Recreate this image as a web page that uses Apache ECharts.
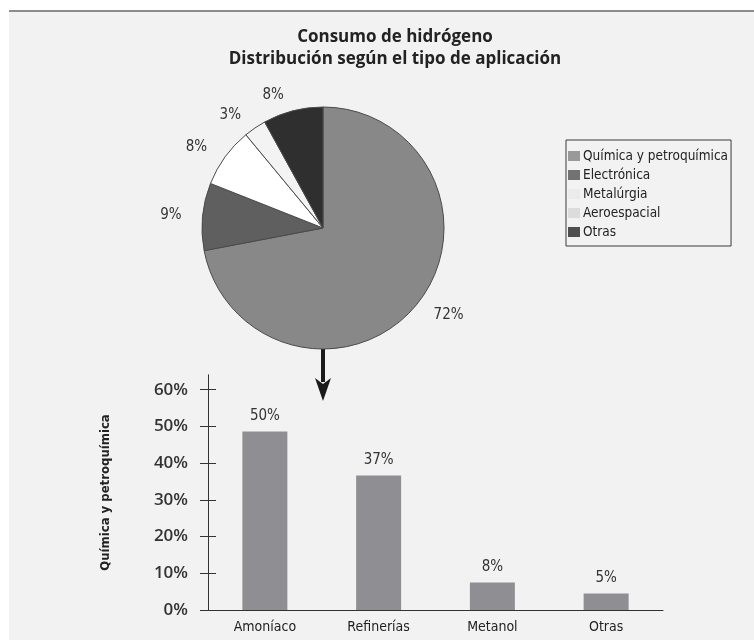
<!DOCTYPE html>
<html>
<head>
<meta charset="utf-8">
<script src="https://cdn.jsdelivr.net/npm/echarts@6/dist/echarts.min.js"></script>
<style>
html,body{margin:0;padding:0;background:#fff;}
#chart{width:754px;height:640px;}
</style>
</head>
<body>
<div id="chart"></div>
<script>
// ---- data ----
var pieNames = ['Química y petroquímica', 'Electrónica', 'Metalúrgia', 'Aeroespacial', 'Otras'];
var pieValues = [72, 9, 8, 3, 8];
var pieColors = ['#888888', '#5f5f5f', '#ffffff', '#f3f3f3', '#2f2f2f'];
var legendColors = ['#999999', '#727272', '#ebebeb', '#dcdcdc', '#4f4f4f'];

var barCategories = ['Amoníaco', 'Refinerías', 'Metanol', 'Otras'];
var barValues = [48.6, 36.6, 7.5, 4.5];
var barLabels = ['50%', '37%', '8%', '5%'];
var yTicks = [0, 10, 20, 30, 40, 50, 60];

var narrow = "'Liberation Sans Narrow', 'DejaVu Sans Condensed', sans-serif";
var semi = "'Open Sans', 'Liberation Sans', sans-serif";

var chart = echarts.init(document.getElementById('chart'), null, {renderer: 'canvas'});

var pieData = pieNames.map(function (n, i) {
  return {name: n, value: pieValues[i], itemStyle: {color: pieColors[i]}};
});
var legendData = pieNames.map(function (n, i) {
  return {name: n, itemStyle: {color: legendColors[i], borderWidth: 0}};
});

var yAxisBase = {
  type: 'value', min: 0, max: 64, gridIndex: 0, position: 'left',
  splitLine: {show: false},
  axisLine: {show: true, lineStyle: {color: '#333', width: 1}}
};

var option = {
  backgroundColor: '#f2f2f2',
  animation: false,
  title: {
    text: 'Consumo de hidrógeno\nDistribución según el tipo de aplicación',
    left: 390, top: 21, textAlign: 'center',
    textStyle: {fontFamily: semi, fontSize: 17, fontWeight: 'bold', color: '#222', lineHeight: 22}
  },
  legend: {
    orient: 'vertical', left: 566, top: 140,
    padding: [7, 3, 5, 2], itemGap: 1,
    itemWidth: 12, itemHeight: 10, icon: 'rect',
    borderColor: '#3a3a3a', borderWidth: 1, borderRadius: 0,
    textStyle: {fontFamily: narrow, fontSize: 13.5, color: '#222', lineHeight: 18, padding: [0, 0, 0, -2]},
    data: legendData
  },
  grid: {left: 208, top: 375, width: 455, height: 235, containLabel: false},
  xAxis: {
    type: 'category', data: barCategories, gridIndex: 0,
    axisTick: {show: false},
    axisLine: {lineStyle: {color: '#333', width: 1}},
    axisLabel: {fontFamily: narrow, fontSize: 14, color: '#222', margin: 10}
  },
  yAxis: [
    Object.assign({}, yAxisBase, {
      axisTick: {show: true, inside: false, length: 8, lineStyle: {color: '#333'}, customValues: yTicks},
      axisLabel: {show: true, customValues: yTicks, formatter: '{value}%', margin: 20,
        fontFamily: semi, fontSize: 17, fontWeight: 600, color: '#333'},
      name: 'Química y petroquímica', nameLocation: 'middle', nameGap: 96,
      nameTextStyle: {fontFamily: narrow, fontSize: 13, fontWeight: 'bold', color: '#222'}
    }),
    Object.assign({}, yAxisBase, {
      axisTick: {show: true, inside: true, length: 8, lineStyle: {color: '#333'}, customValues: yTicks},
      axisLabel: {show: false}
    })
  ],
  series: [
    {
      type: 'pie', center: [323, 228], radius: 121, startAngle: 90, clockwise: true,
      data: pieData,
      itemStyle: {borderColor: '#4a4a4a', borderWidth: 1},
      label: {show: true, position: 'outside', formatter: '{c}%', fontFamily: narrow, fontSize: 15, color: '#333'},
      labelLine: {show: false, length: 16, length2: 0},
      emphasis: {disabled: true}
    },
    {
      type: 'bar', xAxisIndex: 0, yAxisIndex: 0, data: barValues, barWidth: 45,
      itemStyle: {color: '#8f8f93'},
      label: {show: true, position: 'top', distance: 8, fontFamily: narrow, fontSize: 15, color: '#333',
        formatter: function (p) { return barLabels[p.dataIndex]; }},
      emphasis: {disabled: true}
    }
  ],
  graphic: [
    {type: 'rect', shape: {x: 0, y: 0, width: 754, height: 10}, style: {fill: '#ffffff'}, silent: true},
    {type: 'rect', shape: {x: 0, y: 0, width: 9, height: 640}, style: {fill: '#ffffff'}, silent: true},
    {type: 'rect', shape: {x: 9, y: 10, width: 745, height: 2}, style: {fill: '#8c8c8c'}, silent: true},
    {type: 'rect', shape: {x: 321, y: 349, width: 4, height: 33}, style: {fill: '#1a1a1a'}, silent: true},
    {type: 'polygon', shape: {points: [[315, 378], [323, 384], [331, 378], [323, 401]]}, style: {fill: '#1a1a1a'}, silent: true}
  ]
};
chart.setOption(option);
</script>
</body>
</html>
